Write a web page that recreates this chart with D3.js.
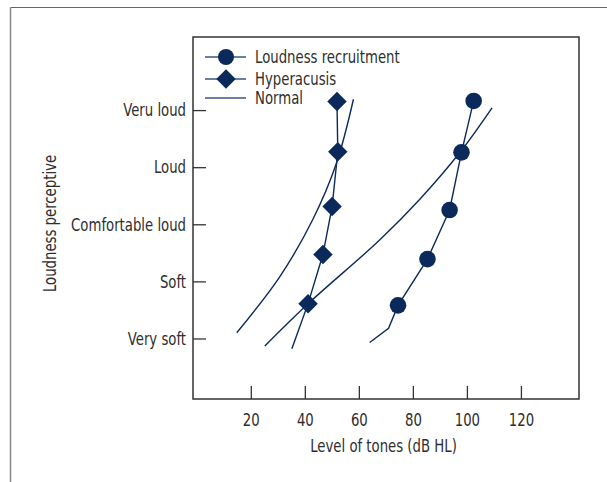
<!DOCTYPE html>
<html>
<head>
<meta charset="utf-8">
<script src="https://cdn.jsdelivr.net/npm/d3@7"></script>
<style>
  body { margin: 0; background: #fff; }
  text { font-family: "DejaVu Sans Condensed", "Liberation Sans Narrow", sans-serif; fill: #2e2e2e; }
</style>
</head>
<body>
<div id="chart"></div>
<script>
// categories on the y axis (1 = Very soft ... 5 = Veru loud)
const loudnessLevels = ["Very soft", "Soft", "Comfortable loud", "Loud", "Veru loud"];
const xTicks = [20, 40, 60, 80, 100, 120];

// Loudness recruitment (first two points are the line tail, no marker)
const recruitX = [64, 71, 74.5, 85.4, 93.6, 98, 102.5];
const recruitY = [0.93, 1.18, 1.58, 2.39, 3.25, 4.26, 5.16];
const recruitMarkerFrom = 2;

// Hyperacusis (first point is the tail, no marker)
const hyperX = [35.2, 41.2, 46.7, 50.1, 52.2, 51.9];
const hyperY = [0.82, 1.61, 2.47, 3.31, 4.27, 5.15];
const hyperMarkerFrom = 1;

// Normal curves
const normalAX = [14.8, 30.7, 42.9, 51.7, 58];
const normalAY = [1.10, 2.08, 3.08, 4.07, 5.19];
const normalBX = [25.2, 41, 67.6, 82.4, 97.6, 109.3];
const normalBY = [0.87, 1.60, 2.72, 3.43, 4.27, 5.04];

const W = 607, H = 482;
const plot = { left: 193, top: 37, right: 579, bottom: 399 };
const navy = "#0b2a5b";
const fs = 18, squeeze = 0.82; // narrow the glyphs to look like a condensed face

const svg = d3.select("#chart").append("svg")
  .attr("width", W).attr("height", H);

// outer frame (top and left edges visible)
svg.append("line").attr("x1", 10.5).attr("x2", W).attr("y1", 7.5).attr("y2", 7.5)
  .attr("stroke", "#666").attr("stroke-width", 1.2);
svg.append("line").attr("x1", 10.5).attr("x2", 10.5).attr("y1", 7.5).attr("y2", H)
  .attr("stroke", "#888").attr("stroke-width", 1.5);

const x = d3.scaleLinear().domain([-1.4, 141.5]).range([plot.left, plot.right]);
const y = d3.scaleLinear().domain([-0.06, 6.28]).range([plot.bottom, plot.top]);

// plot box
svg.append("rect")
  .attr("x", plot.left).attr("y", plot.top)
  .attr("width", plot.right - plot.left).attr("height", plot.bottom - plot.top)
  .attr("fill", "none").attr("stroke", "#333").attr("stroke-width", 1.5);

// x axis: inward ticks
const xAxis = d3.axisBottom(x).tickValues(xTicks).tickSizeInner(-13).tickSizeOuter(0).tickPadding(14);
const gx = svg.append("g").attr("transform", `translate(0,${plot.bottom})`).call(xAxis);
gx.select(".domain").remove();
gx.selectAll(".tick line").attr("stroke", "#333").attr("stroke-width", 1.3);
gx.selectAll(".tick text").attr("font-size", fs)
  .attr("transform", `scale(${squeeze},1)`).style("fill", "#2e2e2e");

// y axis: inward ticks, category labels
const yAxis = d3.axisLeft(y).tickValues([1, 2, 3, 4, 5])
  .tickFormat(d => loudnessLevels[d - 1]).tickSizeInner(-13).tickSizeOuter(0).tickPadding(8.5);
const gy = svg.append("g").attr("transform", `translate(${plot.left},0)`).call(yAxis);
gy.select(".domain").remove();
gy.selectAll(".tick line").attr("stroke", "#333").attr("stroke-width", 1.3);
gy.selectAll(".tick text").attr("font-size", fs)
  .attr("transform", `scale(${squeeze},1)`).style("fill", "#2e2e2e");
// the axis groups carry font attributes; clear them so the css face applies
gx.attr("font-family", null).attr("font-size", null);
gy.attr("font-family", null).attr("font-size", null);

// axis titles
svg.append("text").attr("transform", `translate(383.5,452) scale(${squeeze},1)`)
  .attr("text-anchor", "middle").attr("font-size", fs).text("Level of tones (dB HL)");
svg.append("text").attr("transform", `translate(56,223.5) rotate(-90) scale(${squeeze},1)`)
  .attr("text-anchor", "middle").attr("font-size", fs).text("Loudness perceptive");

const zip = (xs, ys) => xs.map((v, i) => ({ x: v, y: ys[i] }));
const straight = d3.line().x(d => x(d.x)).y(d => y(d.y));
const smooth = d3.line().x(d => x(d.x)).y(d => y(d.y)).curve(d3.curveCatmullRom.alpha(0.5));

const recruit = zip(recruitX, recruitY);
const hyper = zip(hyperX, hyperY);

[zip(normalAX, normalAY), zip(normalBX, normalBY)].forEach(pts => {
  svg.append("path").attr("d", smooth(pts))
    .attr("fill", "none").attr("stroke", navy).attr("stroke-width", 1.4);
});
svg.append("path").attr("d", straight(recruit))
  .attr("fill", "none").attr("stroke", navy).attr("stroke-width", 1.4);
svg.append("path").attr("d", straight(hyper))
  .attr("fill", "none").attr("stroke", navy).attr("stroke-width", 1.4);

svg.append("g").selectAll("circle")
  .data(recruit.slice(recruitMarkerFrom)).join("circle")
  .attr("cx", d => x(d.x)).attr("cy", d => y(d.y)).attr("r", 8.3)
  .attr("fill", navy);

const diamond = d3.symbol().type(d3.symbolSquare).size(190);
svg.append("g").selectAll("path")
  .data(hyper.slice(hyperMarkerFrom)).join("path")
  .attr("d", diamond)
  .attr("transform", d => `translate(${x(d.x)},${y(d.y)}) rotate(45)`)
  .attr("fill", navy);

// legend
const legend = svg.append("g");
const legendItems = ["Loudness recruitment", "Hyperacusis", "Normal"];
const legendY = [57, 79, 98];
legendItems.forEach((name, i) => {
  const ly = legendY[i];
  legend.append("line").attr("x1", 205).attr("x2", 246).attr("y1", ly).attr("y2", ly)
    .attr("stroke", "#3a5687").attr("stroke-width", 1.6);
  if (i === 0) legend.append("circle").attr("cx", 226).attr("cy", ly).attr("r", 8).attr("fill", navy);
  if (i === 1) legend.append("path").attr("d", diamond)
    .attr("transform", `translate(226,${ly}) rotate(45)`).attr("fill", navy);
  legend.append("text").attr("transform", `translate(255,${ly + 6}) scale(${squeeze},1)`)
    .attr("font-size", fs).text(name);
});
</script>
</body>
</html>
